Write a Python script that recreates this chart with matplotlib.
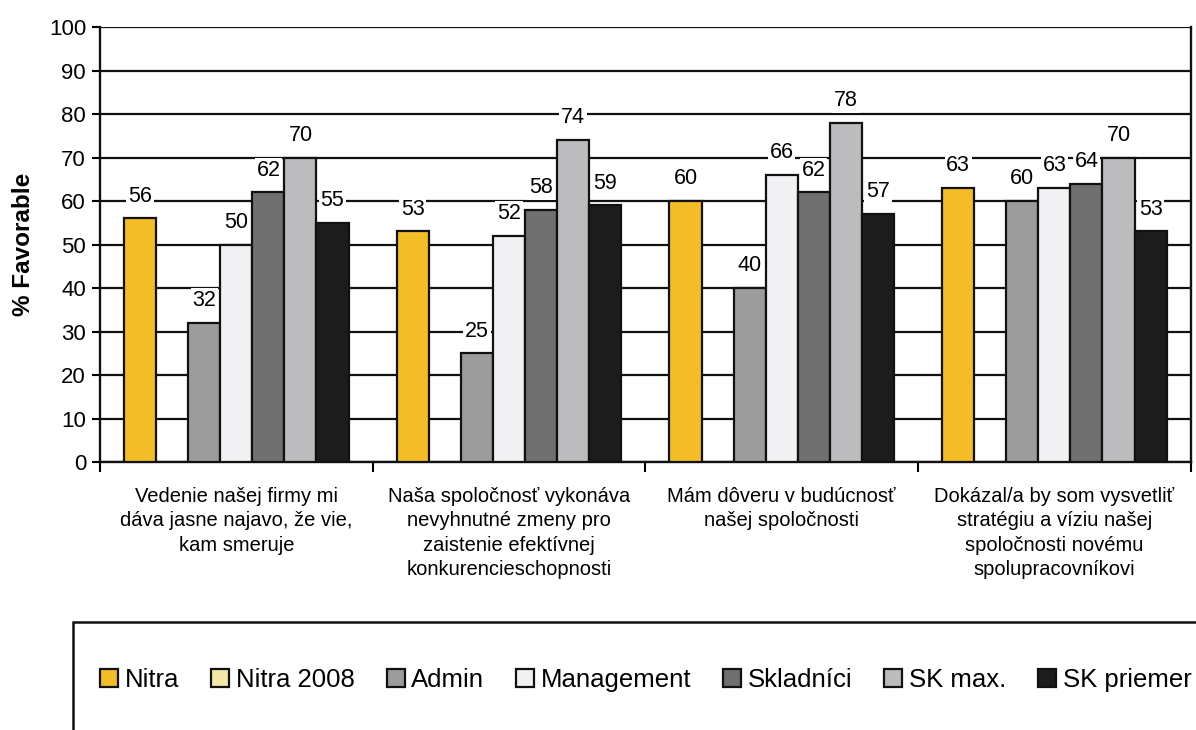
import numpy as np
import matplotlib.pyplot as plt
from matplotlib.patches import Rectangle

plt.rcParams['font.family'] = ['Liberation Sans', 'DejaVu Sans']

categories = [
    "Vedenie našej firmy mi\ndáva jasne najavo, že vie,\nkam smeruje",
    "Naša spoločnosť vykonáva\nnevyhnutné zmeny pro\nzaistenie efektívnej\nkonkurencieschopnosti",
    "Mám dôveru v budúcnosť\nnašej spoločnosti",
    "Dokázal/a by som vysvetliť\nstratégiu a víziu našej\nspoločnosti novému\nspolupracovníkovi",
]
series = ["Nitra", "Nitra 2008", "Admin", "Management", "Skladníci", "SK max.", "SK priemer"]
nitra = [56, 53, 60, 63]
nitra_2008 = [None, None, None, None]
admin = [32, 25, 40, 60]
management = [50, 52, 66, 63]
skladnici = [62, 58, 62, 64]
sk_max = [70, 74, 78, 70]
sk_priemer = [55, 59, 57, 53]

values = [nitra, nitra_2008, admin, management, skladnici, sk_max, sk_priemer]
colors = ["#f2bd27", "#f3e7a8", "#9c9c9c", "#f1f1f3", "#707070", "#bcbcbe", "#1c1c1c"]

fig = plt.figure(figsize=(11.96, 7.30), dpi=100)
ax = fig.add_axes([0.0836, 0.367, 0.912, 0.596])

w = 0.1176
x = np.arange(len(categories))
for i, (name, vals, c) in enumerate(zip(series, values, colors)):
    pos = x - 3 * w + i * w
    v = [np.nan if a is None else a for a in vals]
    ax.bar(pos, v, width=w, color=c, edgecolor="#111111", linewidth=1.6,
           label=name, zorder=3)
    for p, val in zip(pos, vals):
        if val is None:
            continue
        ax.annotate(str(val), (p, val), xytext=(0, 16), textcoords="offset points",
                    ha="center", va="center", fontsize=15.5, zorder=4,
                    bbox=dict(boxstyle="square,pad=0.08", fc="white", ec="none"))

ax.set_ylim(0, 100)
ax.set_xlim(-0.5, len(categories) - 0.5)
ax.set_yticks(range(0, 101, 10))
ax.tick_params(axis="y", labelsize=16, length=6, width=1.5, direction="out", pad=4)
ax.yaxis.grid(True, color="#111111", linewidth=1.6, zorder=0)
ax.set_axisbelow(True)

ax.set_xticks(x)
ax.set_xticklabels(categories, fontsize=14.5, linespacing=1.35, va="top")
ax.tick_params(axis="x", length=0, pad=18)
ax.set_xticks(np.arange(len(categories) + 1) - 0.5, minor=True)
ax.tick_params(axis="x", which="minor", length=7, width=1.5, direction="out")

for s in ["left", "bottom", "right"]:
    ax.spines[s].set_linewidth(1.7)
    ax.spines[s].set_color("#111111")
ax.spines["top"].set_visible(False)

ax.set_ylabel("% Favorable", fontsize=17.5, fontweight="bold", labelpad=10)

fig.patches.append(Rectangle((73 / 1196, -0.05), 1.0, (730 - 622) / 730 + 0.05,
                             transform=fig.transFigure, fill=False,
                             edgecolor="#111111", linewidth=1.8))
handles, labels = ax.get_legend_handles_labels()
fig.legend(handles, labels, loc="center", bbox_to_anchor=(0.54, 1 - 680 / 730),
           ncol=7, frameon=False, fontsize=18.5, handlelength=0.7, handleheight=0.7,
           handletextpad=0.25, columnspacing=1.25)

fig.savefig("out.png", dpi=100)
